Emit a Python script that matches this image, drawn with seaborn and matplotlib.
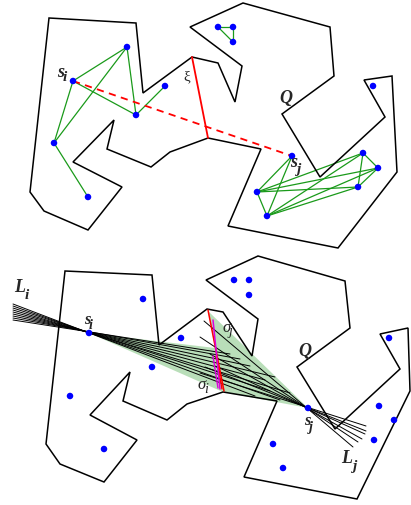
import numpy as np
import pandas as pd
import matplotlib
matplotlib.use("Agg")
import matplotlib.pyplot as plt
from matplotlib.patches import Polygon
import seaborn as sns

sns.set_style("white")
plt.rcParams["mathtext.fontset"] = "stix"
plt.rcParams["font.family"] = ["Liberation Serif", "DejaVu Serif"]

# ---------------- top panel data ----------------
top_poly_x = [49, 136, 143, 192, 218, 235, 242, 190, 243, 330, 334, 282, 320, 385, 364, 392,
              397, 338, 228, 261, 208, 170, 151, 107, 114, 73, 122, 88, 44, 30]
top_poly_y = [19, 24, 94, 58, 64, 103, 67, 28, 4, 28, 77, 115, 178, 118, 81, 77,
              173, 249, 227, 150, 139, 153, 168, 150, 121, 163, 188, 231, 212, 193]

top_pts_x = [73, 127, 136, 165, 54, 88, 218, 233, 233, 373, 292, 363, 378, 257, 358, 267]
top_pts_y = [82, 48, 116, 87, 144, 198, 28, 28, 43, 87, 157, 154, 169, 193, 188, 217]

top_edges = [(0, 1), (0, 2), (0, 4), (1, 4), (1, 2), (2, 3), (4, 5),
             (6, 7), (7, 8), (8, 6),
             (10, 13), (10, 15), (13, 15), (13, 14), (13, 12), (13, 11),
             (15, 11), (15, 12), (15, 14), (11, 12), (11, 14), (12, 14)]

xi_x = [192, 208]
xi_y = [58, 139]
dash_x = [73, 292]
dash_y = [82, 157]

# ---------------- bottom panel data ----------------
bot_poly_x = [65, 152, 159, 207, 223, 252, 258, 206, 258, 345, 350, 297, 335, 400, 380, 408,
              410, 357, 244, 277, 223, 187, 167, 123, 130, 90, 137, 104, 60, 46]
bot_poly_y = [272, 276, 346, 310, 313, 357, 320, 281, 257, 282, 329, 368, 430, 370, 335, 329,
              392, 500, 478, 402, 393, 405, 421, 402, 373, 416, 441, 483, 465, 445]

bot_pts_x = [89, 143, 181, 152, 70, 104, 234, 249, 249, 389, 308, 379, 394, 374, 273, 283]
bot_pts_y = [334, 300, 339, 368, 397, 450, 281, 281, 296, 339, 409, 407, 421, 441, 445, 469]

# fan of lines through s_i (start on the left, end on the right)
li_x0 = [13, 13, 13, 13, 13, 13, 13, 13, 13]
li_y0 = [305, 307, 309, 311, 313, 315, 317, 319, 321]
li_x1 = [255, 280, 270, 290, 265, 275, 250, 240, 230]
li_y1 = [397, 401, 392, 394, 381, 378, 367, 360, 355]

# fan of lines through s_j
lj_x0 = [200, 205, 215, 210, 200, 204]
lj_y0 = [374, 368, 367, 355, 338, 322]
lj_x1 = [366, 366, 365, 362, 358, 353]
lj_y1 = [427, 432, 435, 440, 443, 448]

# visibility region (green)
vis_x = [89, 215, 208, 308, 223]
vis_y = [334, 349, 312, 409, 393]

sigma_red_x = [208, 224]
sigma_red_y = [311, 392]
sigma_red2_x = [216, 222]
sigma_red2_y = [357, 390]
sigma_mag_x = [213, 220]
sigma_mag_y = [321, 390]
sigma_mag2_x = [213, 218]
sigma_mag2_y = [357, 389]

# ---------------- drawing ----------------
fig = plt.figure(figsize=(4.11, 5.06), dpi=100)
ax = fig.add_axes([0, 0, 1, 1])

# green region
ax.add_patch(Polygon(np.column_stack([vis_x, vis_y]), closed=True,
                     fc="#b5ddb5", ec="none", alpha=0.95, zorder=1))

for px, py in [(top_poly_x, top_poly_y), (bot_poly_x, bot_poly_y)]:
    ax.add_patch(Polygon(np.column_stack([px, py]), closed=True, fill=False,
                         ec="black", lw=1.1, zorder=3))

# green graph edges
rows = []
for k, (a, b) in enumerate(top_edges):
    rows.append(dict(e=k, x=top_pts_x[a], y=top_pts_y[a]))
    rows.append(dict(e=k, x=top_pts_x[b], y=top_pts_y[b]))
edges_df = pd.DataFrame(rows)
sns.lineplot(data=edges_df, x="x", y="y", units="e", estimator=None, sort=False,
             color="#1a9a1a", lw=0.9, ax=ax, zorder=2)

# fan lines
rows = []
k = 0
for xs0, ys0, xs1, ys1 in [(li_x0, li_y0, li_x1, li_y1), (lj_x0, lj_y0, lj_x1, lj_y1)]:
    for a, b, c, d in zip(xs0, ys0, xs1, ys1):
        rows.append(dict(e=k, x=a, y=b))
        rows.append(dict(e=k, x=c, y=d))
        k += 1
fan_df = pd.DataFrame(rows)
sns.lineplot(data=fan_df, x="x", y="y", units="e", estimator=None, sort=False,
             color="black", lw=0.7, ax=ax, zorder=2)

# red / magenta segments
ax.plot(xi_x, xi_y, color="red", lw=1.3, zorder=4)
ax.plot(dash_x, dash_y, color="red", lw=1.3, ls=(0, (4, 3)), zorder=4)
ax.plot(sigma_red_x, sigma_red_y, color="red", lw=1.1, zorder=4)
ax.plot(sigma_red2_x, sigma_red2_y, color="red", lw=1.0, zorder=4)
ax.plot(sigma_mag_x, sigma_mag_y, color="#dd00dd", lw=1.1, zorder=4)
ax.plot(sigma_mag2_x, sigma_mag2_y, color="#dd00dd", lw=1.0, zorder=4)

# points
sns.scatterplot(x=top_pts_x + bot_pts_x, y=top_pts_y + bot_pts_y, color="blue",
                s=22, edgecolor="none", ax=ax, zorder=5)

ax.set_xlim(0, 411)
ax.set_ylim(506, 0)
ax.set_axis_off()

# labels
def lab(x, y, main, sub=None, size=13, bold=False, dx=5, dy=5, subsize=None):
    w = "bold" if bold else "normal"
    ax.text(x, y, main, fontsize=size, style="italic", weight=w, ha="left",
            va="baseline", zorder=6)
    if sub:
        ax.text(x + dx, y + dy, sub, fontsize=subsize or size * 0.85, style="italic",
                weight=w, ha="left", va="baseline", zorder=6)

lab(57, 77, "s", "i", size=13, bold=True, dx=6, dy=4)
ax.text(183, 80, "ξ", fontsize=11, ha="left", va="baseline")
lab(279, 103, "Q", size=13, bold=True)
lab(290, 167, "s", "j", size=13, bold=True, dx=6, dy=6)

lab(14, 292, "L", "i", size=13, bold=True, dx=11, dy=7)
lab(84, 324, "s", "i", size=12, bold=True, dx=5, dy=5)
lab(222, 332, "σ", "j", size=12, dx=7, dy=3)
lab(197, 389, "σ", "i", size=12, dx=7, dy=4)
lab(298, 356, "Q", size=13, bold=True)
lab(304, 425, "s", "j", size=12, bold=True, dx=5, dy=6)
lab(341, 463, "L", "j", size=13, bold=True, dx=11, dy=7)

fig.savefig("out.png", dpi=100)
